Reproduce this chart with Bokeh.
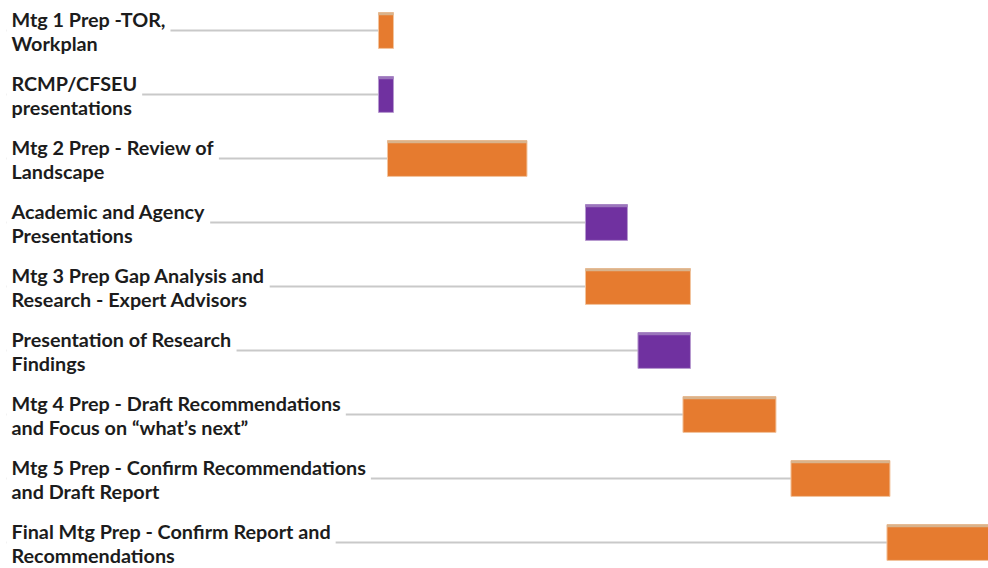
from bokeh.plotting import figure
from bokeh.models import Range1d, ColumnDataSource
from bokeh.core.properties import value
from bokeh.embed import file_html
from bokeh.resources import INLINE

# Tasks (timeline in weeks from project start)
tasks = [
    "Mtg 1 Prep -TOR,\nWorkplan",
    "RCMP/CFSEU\npresentations",
    "Mtg 2 Prep - Review of\nLandscape",
    "Academic and Agency\nPresentations",
    "Mtg 3 Prep Gap Analysis and\nResearch - Expert Advisors",
    "Presentation of Research\nFindings",
    "Mtg 4 Prep - Draft Recommendations\nand Focus on \u201cwhat\u2019s next\u201d",
    "Mtg 5 Prep - Confirm Recommendations\nand Draft Report",
    "Final Mtg Prep - Confirm Report and\nRecommendations",
]
start = [0.0, 0.0, 0.6, 13.8, 13.8, 17.3, 20.3, 27.5, 33.9]
end = [1.0, 1.0, 9.9, 16.6, 20.8, 20.8, 26.5, 34.1, 41.5]
kind = ["prep", "meeting", "prep", "meeting", "prep", "meeting", "prep", "prep", "prep"]

FILL = {"prep": "#E67B2F", "meeting": "#7031A0"}
TOP = {"prep": "#D9B38C", "meeting": "#9B76BC"}
EDGE = {"prep": "#F2C49E", "meeting": "#B79ACF"}

rows = list(range(len(tasks)))
X0, X1 = -25.2, 40.67
label_x = X0 + 0.4
bar_h = 0.28
strip = 0.04

src = ColumnDataSource(dict(
    row=rows,
    task=tasks,
    start=start,
    end=end,
    top=[r - bar_h for r in rows],
    bottom=[r + bar_h for r in rows],
    strip_bottom=[r - bar_h + strip for r in rows],
    fill=[FILL[k] for k in kind],
    topc=[TOP[k] for k in kind],
    edge=[EDGE[k] for k in kind],
    lx=[label_x] * len(rows),
))

p = figure(width=988, height=568, output_backend="svg", toolbar_location=None,
           x_range=Range1d(X0, X1), y_range=Range1d(8.406, -0.469),
           min_border=0)
p.axis.visible = False
p.grid.visible = False
p.outline_line_color = None
p.background_fill_color = "white"
p.border_fill_color = "white"

# connector lines from label to bar start
p.segment(x0="lx", y0="row", x1="start", y1="row", source=src,
          line_color="#C9C9C9", line_width=2)

# labels (white box hides connector under the text)
p.text(x="lx", y="row", text="task", source=src,
       text_font=value("Lato"), text_font_style="bold", text_font_size="19.8px",
       text_color="#1C1C1C", text_baseline="middle", text_align="left",
       text_line_height=1.0,
       background_fill_color="white", padding=5)

# bars
p.quad(left="start", right="end", top="top", bottom="bottom", source=src,
       fill_color="fill", line_color="edge", line_width=1)
p.quad(left="start", right="end", top="top", bottom="strip_bottom", source=src,
       fill_color="topc", line_color=None)

open("out.html", "w").write(file_html(p, INLINE))
